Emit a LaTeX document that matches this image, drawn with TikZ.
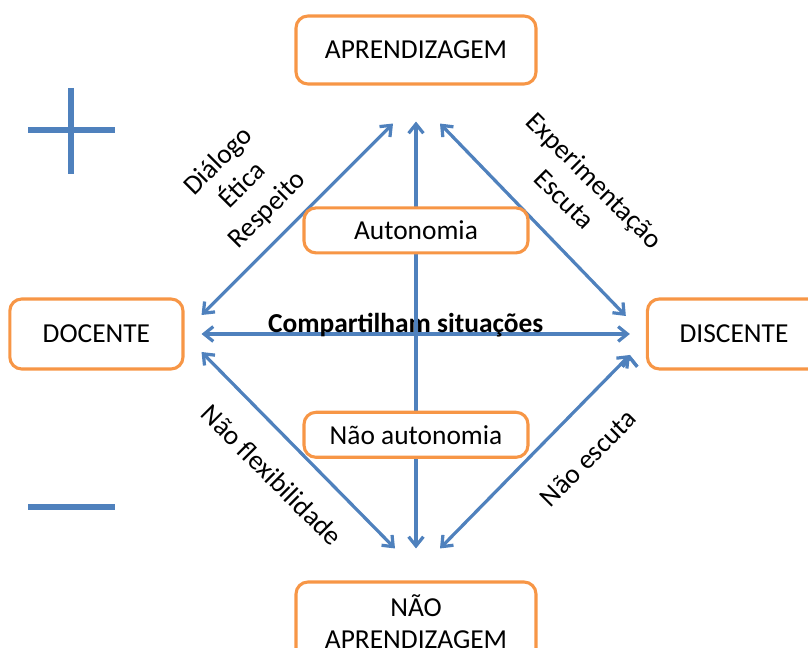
\documentclass[tikz,border=0pt]{standalone}
\usepackage{fontspec}
\setmainfont{Carlito}
\usetikzlibrary{arrows.meta, positioning}

\definecolor{laranja}{HTML}{F79646}
\definecolor{azul}{HTML}{4F81BD}

\begin{document}
\begin{tikzpicture}[on grid,
        >={Straight Barb[length=6.5pt,width=10.5pt]},
        caixa/.style={draw=laranja, line width=2.2pt, rounded corners=8.5pt, fill=white,
            align=center, font=\fontsize{19.5}{23}\selectfont},
        seta/.style={<->, draw=azul, line width=2.3pt},
        rotulo/.style={align=center, font=\fontsize{19.5}{24.5}\selectfont},
        sinal/.style={draw=azul, line width=4.5pt}]
        \useasboundingbox (0,0) rectangle (20.2,16.2);

        \node[caixa, minimum width=6cm, minimum height=1.7cm]    (aprend)   at (10.4,14.95)                    {APRENDIZAGEM};
        \node[caixa, minimum width=4.33cm, minimum height=1.75cm] (docente)  [below left=7.1cm and 7.99cm of aprend]  {DOCENTE};
        \node[caixa, minimum width=4.33cm, minimum height=1.75cm] (discente) [below right=7.1cm and 7.95cm of aprend] {DISCENTE};
        \node[caixa, minimum width=6cm, minimum height=2cm]      (naoaprend) [below=14.3cm of aprend]           {NÃO\\APRENDIZAGEM};

        \path[seta] ([shift={(0.425,0)}]docente.east) edge node[anchor=base, xshift=-0.25cm, yshift=0.04cm, font=\fontsize{19.5}{23}\selectfont\bfseries] {Compartilham situações} ([shift={(-0.4,0)}]discente.west)
        ([shift={(0,-0.9)}]aprend.south) edge ([shift={(0,0.8)}]naoaprend.north)
        ([shift={(0.425,0.475)}]docente.east) edge ([shift={(-0.575,-0.95)}]aprend.south)
        ([shift={(0.6,-0.95)}]aprend.south) edge ([shift={(-0.5,0.45)}]discente.west)
        ([shift={(0.425,-0.45)}]docente.east) edge ([shift={(-0.525,0.8)}]naoaprend.north)
        ([shift={(-0.4,-0.525)}]discente.west) edge ([shift={(0.6,0.8)}]naoaprend.north)
        ;

        \node[caixa, minimum width=5.6cm, minimum height=1.125cm] (auto)    [below=4.51cm of aprend] {Autonomia};
        \node[caixa, minimum width=5.6cm, minimum height=1.125cm] (naoauto) [below=5.11cm of auto]   {Não autonomia};

        % rotulos das setas
        \node[rotulo, rotate=45]  (valores)  at (6.075,11.55)  {Diálogo\\Ética\\Respeito};
        \node[rotulo, rotate=-45] (escuta)   at (14.425,11.53) {\hspace*{0.4cm}Experimentação\\Escuta};
        \node[rotulo, rotate=-45] (flex)     at (6.8,4.325)    {Não flexibilidade};
        \node[rotulo, rotate=45]  (naoesc)   at (14.7,4.75)    {Não escuta};

        % sinais
        \draw[sinal] (0.7,12.95) -- (2.875,12.95);
        \draw[sinal] (1.775,14.0) -- (1.775,11.85);
        \draw[sinal] (0.7,3.525) -- (2.875,3.525);
    \end{tikzpicture}
\end{document}
